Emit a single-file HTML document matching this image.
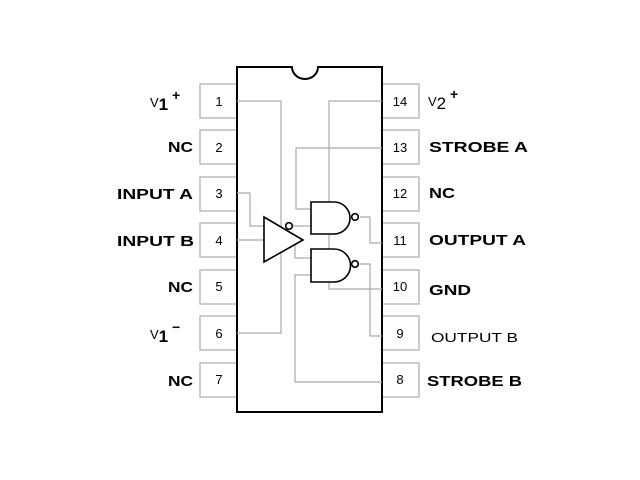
<!DOCTYPE html>
<html><head><style>html,body{margin:0;padding:0;background:#fff}svg{display:block}</style></head>
<body>
<svg width="640" height="480" viewBox="0 0 640 480" xmlns="http://www.w3.org/2000/svg" font-family="Liberation Sans, sans-serif">
<rect width="640" height="480" fill="#fff"/>
<g fill="#fff" stroke="#bbb" stroke-width="1.5">
<rect x="200" y="84" width="37" height="34"/><rect x="200" y="130" width="37" height="34"/>
<rect x="200" y="177" width="37" height="34"/><rect x="200" y="223" width="37" height="34"/>
<rect x="200" y="270" width="37" height="34"/><rect x="200" y="316" width="37" height="34"/>
<rect x="200" y="363" width="37" height="34"/>
<rect x="382" y="84" width="37" height="34"/><rect x="382" y="130" width="37" height="34"/>
<rect x="382" y="177" width="37" height="34"/><rect x="382" y="223" width="37" height="34"/>
<rect x="382" y="270" width="37" height="34"/><rect x="382" y="316" width="37" height="34"/>
<rect x="382" y="363" width="37" height="34"/>
</g>
<path d="M237 67 H292 A13 12 0 0 0 318 67 H382 V412 H237 Z" fill="#fff" stroke="#000" stroke-width="2"/>
<g fill="none" stroke="#aaa" stroke-width="1.2">
<path d="M237 101 H281 V333 H237"/>
<path d="M382 101 H329 V289 H382"/>
<path d="M382 148 H296 V209 H311"/>
<path d="M237 193 H250 V226 H264"/>
<path d="M237 240 H264"/>
<path d="M293 226 H311"/>
<path d="M303 240 H295 V258 H311"/>
<path d="M360 217 H370 V243 H382"/>
<path d="M360 264 H370 V336 H382"/>
<path d="M382 382 H295 V275 H311"/>
</g>
<g fill="#fff" stroke="#000" stroke-width="1.6">
<path d="M311 202 H334 A16 16 0 0 1 334 234 H311 Z"/>
<path d="M311 249 H334 A16.5 16.5 0 0 1 334 282 H311 Z"/>
<circle cx="355" cy="217" r="3.3"/><circle cx="355" cy="264" r="3.3"/>
<path d="M264 217 L303 240 L264 262 Z"/>
<circle cx="289" cy="226" r="3.3"/>
</g>
<g font-size="13" fill="#000" text-anchor="middle">
<text x="219" y="106">1</text><text x="219" y="152">2</text><text x="219" y="198">3</text>
<text x="219" y="245">4</text><text x="219" y="291">5</text><text x="219" y="338">6</text>
<text x="219" y="384">7</text>
<text x="400" y="106">14</text><text x="400" y="152">13</text><text x="400" y="198">12</text>
<text x="400" y="245">11</text><text x="400" y="291">10</text><text x="400" y="338">9</text>
<text x="400" y="384">8</text>
</g>
<g font-size="15" font-weight="bold" fill="#000" lengthAdjust="spacingAndGlyphs">
<text x="150" y="107" font-weight="normal" font-size="13">V<tspan font-size="17" font-weight="bold" dy="3">1</tspan><tspan dy="-10" font-size="14" font-weight="bold"> +</tspan></text>
<text x="168" y="152" textLength="25" lengthAdjust="spacingAndGlyphs">NC</text>
<text x="117" y="199" textLength="76" lengthAdjust="spacingAndGlyphs">INPUT A</text>
<text x="117" y="246" textLength="77" lengthAdjust="spacingAndGlyphs">INPUT B</text>
<text x="168" y="292" textLength="25" lengthAdjust="spacingAndGlyphs">NC</text>
<text x="150" y="339" font-weight="normal" font-size="13">V<tspan font-size="17" font-weight="bold" dy="3">1</tspan><tspan dy="-10" font-size="14" font-weight="bold"> −</tspan></text>
<text x="168" y="386" textLength="25" lengthAdjust="spacingAndGlyphs">NC</text>
</g>
<g font-size="15" font-weight="bold" fill="#000">
<text x="428" y="106" font-weight="normal" font-size="13">V<tspan font-size="17" dy="3">2</tspan><tspan dy="-10" font-size="14" font-weight="bold"> +</tspan></text>
<text x="429" y="152" textLength="99" lengthAdjust="spacingAndGlyphs">STROBE A</text>
<text x="429" y="198" textLength="26" lengthAdjust="spacingAndGlyphs">NC</text>
<text x="429" y="245" textLength="97" lengthAdjust="spacingAndGlyphs">OUTPUT A</text>
<text x="429" y="295" textLength="42" lengthAdjust="spacingAndGlyphs">GND</text>
<text x="431" y="342" font-weight="normal" font-size="13" textLength="87" lengthAdjust="spacingAndGlyphs">OUTPUT B</text>
<text x="427" y="386" textLength="95" lengthAdjust="spacingAndGlyphs">STROBE B</text>
</g>
</svg>
</body></html>
